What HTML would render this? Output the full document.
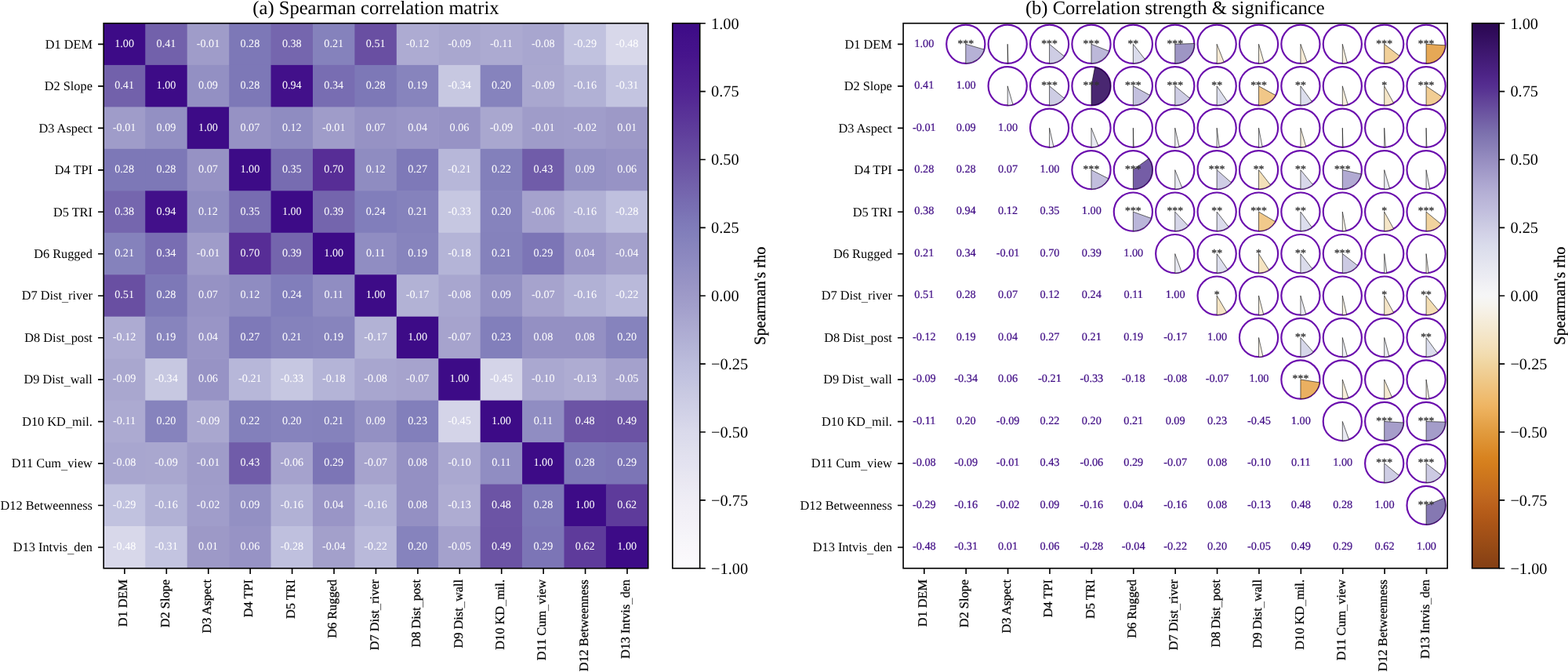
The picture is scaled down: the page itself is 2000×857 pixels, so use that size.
<!DOCTYPE html>
<html lang="en"><head><meta charset="utf-8"><title>Spearman correlation matrix</title>
<style>html,body{margin:0;padding:0;background:#fff}body{width:2000px;height:857px;overflow:hidden}svg{display:block}text{font-family:'Liberation Serif','Times New Roman',Times,serif;text-rendering:geometricPrecision}</style>
</head><body>
<svg width="2000" height="857" viewBox="0 0 2000 857">
<rect width="2000" height="857" fill="#fff"/>
<defs><linearGradient id="gP" x1="0" y1="1" x2="0" y2="0"><stop offset="0" stop-color="#fcfbfd"/><stop offset="0.0156" stop-color="#faf9fc"/><stop offset="0.0312" stop-color="#f9f7fb"/><stop offset="0.0469" stop-color="#f7f6fa"/><stop offset="0.0625" stop-color="#f5f4f9"/><stop offset="0.0781" stop-color="#f4f2f8"/><stop offset="0.0938" stop-color="#f2f0f7"/><stop offset="0.1094" stop-color="#f1eff6"/><stop offset="0.125" stop-color="#efedf5"/><stop offset="0.1406" stop-color="#ecebf4"/><stop offset="0.1562" stop-color="#eae8f2"/><stop offset="0.1719" stop-color="#e7e6f1"/><stop offset="0.1875" stop-color="#e4e3f0"/><stop offset="0.2031" stop-color="#e2e1ef"/><stop offset="0.2188" stop-color="#dfdfed"/><stop offset="0.2344" stop-color="#dcdcec"/><stop offset="0.25" stop-color="#dadaeb"/><stop offset="0.2656" stop-color="#d6d6e9"/><stop offset="0.2812" stop-color="#d2d2e7"/><stop offset="0.2969" stop-color="#cecfe5"/><stop offset="0.3125" stop-color="#cbcbe3"/><stop offset="0.3281" stop-color="#c7c8e1"/><stop offset="0.3438" stop-color="#c3c4e0"/><stop offset="0.3594" stop-color="#bfc0de"/><stop offset="0.375" stop-color="#bcbddc"/><stop offset="0.3906" stop-color="#b8b8d9"/><stop offset="0.4062" stop-color="#b4b4d7"/><stop offset="0.4219" stop-color="#b0afd4"/><stop offset="0.4375" stop-color="#adabd2"/><stop offset="0.4531" stop-color="#a9a7cf"/><stop offset="0.4688" stop-color="#a5a2cd"/><stop offset="0.4844" stop-color="#a19eca"/><stop offset="0.5" stop-color="#9e9ac8"/><stop offset="0.5156" stop-color="#9a96c6"/><stop offset="0.5312" stop-color="#9692c4"/><stop offset="0.5469" stop-color="#928fc3"/><stop offset="0.5625" stop-color="#8e8bc1"/><stop offset="0.5781" stop-color="#8b87bf"/><stop offset="0.5938" stop-color="#8784bd"/><stop offset="0.6094" stop-color="#8380bb"/><stop offset="0.625" stop-color="#807cba"/><stop offset="0.6406" stop-color="#7d77b7"/><stop offset="0.6562" stop-color="#7a71b4"/><stop offset="0.6719" stop-color="#776cb1"/><stop offset="0.6875" stop-color="#7566ae"/><stop offset="0.7031" stop-color="#7261ab"/><stop offset="0.7188" stop-color="#6f5ba8"/><stop offset="0.7344" stop-color="#6c55a5"/><stop offset="0.75" stop-color="#6950a3"/><stop offset="0.7656" stop-color="#664aa1"/><stop offset="0.7812" stop-color="#63459f"/><stop offset="0.7969" stop-color="#603f9c"/><stop offset="0.8125" stop-color="#5d3a9a"/><stop offset="0.8281" stop-color="#5a3498"/><stop offset="0.8438" stop-color="#572f96"/><stop offset="0.8594" stop-color="#542994"/><stop offset="0.875" stop-color="#512493"/><stop offset="0.8906" stop-color="#4f2091"/><stop offset="0.9062" stop-color="#4c1d8f"/><stop offset="0.9219" stop-color="#4a198e"/><stop offset="0.9375" stop-color="#47158c"/><stop offset="0.9531" stop-color="#44128b"/><stop offset="0.9688" stop-color="#421089"/><stop offset="0.9844" stop-color="#3f0d88"/><stop offset="1" stop-color="#3d0b87"/></linearGradient><linearGradient id="gO" x1="0" y1="1" x2="0" y2="0"><stop offset="0" stop-color="#833f14"/><stop offset="0.0156" stop-color="#8b4315"/><stop offset="0.0312" stop-color="#924815"/><stop offset="0.0469" stop-color="#9a4c16"/><stop offset="0.0625" stop-color="#a25017"/><stop offset="0.0781" stop-color="#a95417"/><stop offset="0.0938" stop-color="#b15918"/><stop offset="0.1094" stop-color="#b85e1a"/><stop offset="0.125" stop-color="#be651e"/><stop offset="0.1406" stop-color="#c46b1e"/><stop offset="0.1562" stop-color="#c9711d"/><stop offset="0.1719" stop-color="#ce771d"/><stop offset="0.1875" stop-color="#d47d1d"/><stop offset="0.2031" stop-color="#d88320"/><stop offset="0.2188" stop-color="#db8b2a"/><stop offset="0.2344" stop-color="#de9334"/><stop offset="0.25" stop-color="#e19b3e"/><stop offset="0.2656" stop-color="#e5a34a"/><stop offset="0.2812" stop-color="#eaac56"/><stop offset="0.2969" stop-color="#eeb462"/><stop offset="0.3125" stop-color="#efbb6e"/><stop offset="0.3281" stop-color="#efc17b"/><stop offset="0.3438" stop-color="#efc887"/><stop offset="0.3594" stop-color="#f0ce94"/><stop offset="0.375" stop-color="#f0d5a0"/><stop offset="0.3906" stop-color="#f2dbae"/><stop offset="0.4062" stop-color="#f3e0ba"/><stop offset="0.4219" stop-color="#f4e4c4"/><stop offset="0.4375" stop-color="#f4e8cf"/><stop offset="0.4531" stop-color="#f5ecd9"/><stop offset="0.4688" stop-color="#f6f0e4"/><stop offset="0.4844" stop-color="#f6f4ee"/><stop offset="0.5" stop-color="#f6f6f7"/><stop offset="0.5156" stop-color="#f2f2f5"/><stop offset="0.5312" stop-color="#ededf3"/><stop offset="0.5469" stop-color="#e8e9f1"/><stop offset="0.5625" stop-color="#e3e4ef"/><stop offset="0.5781" stop-color="#dee0ed"/><stop offset="0.5938" stop-color="#d9dbeb"/><stop offset="0.6094" stop-color="#d4d4e8"/><stop offset="0.625" stop-color="#cecde4"/><stop offset="0.6406" stop-color="#c7c6e0"/><stop offset="0.6562" stop-color="#c1bedd"/><stop offset="0.6719" stop-color="#bbb7d9"/><stop offset="0.6875" stop-color="#b5b0d5"/><stop offset="0.7031" stop-color="#aea8d1"/><stop offset="0.7188" stop-color="#a69fcb"/><stop offset="0.7344" stop-color="#9e96c6"/><stop offset="0.75" stop-color="#968dc0"/><stop offset="0.7656" stop-color="#8d84ba"/><stop offset="0.7812" stop-color="#857bb4"/><stop offset="0.7969" stop-color="#7d72ae"/><stop offset="0.8125" stop-color="#7666a9"/><stop offset="0.8281" stop-color="#6f5aa3"/><stop offset="0.8438" stop-color="#684e9e"/><stop offset="0.8594" stop-color="#614298"/><stop offset="0.875" stop-color="#593593"/><stop offset="0.8906" stop-color="#532b8e"/><stop offset="0.9062" stop-color="#4d2486"/><stop offset="0.9219" stop-color="#471f7d"/><stop offset="0.9375" stop-color="#411a74"/><stop offset="0.9531" stop-color="#3b156b"/><stop offset="0.9688" stop-color="#351062"/><stop offset="0.9844" stop-color="#2f0b59"/><stop offset="1" stop-color="#2b0852"/></linearGradient></defs>
<g>
<rect x="132.2" y="29.7" width="54.02" height="54.07" fill="#3d0b87"/>
<rect x="185.27" y="29.7" width="54.02" height="54.07" fill="#7261ab"/>
<rect x="238.7" y="29.7" width="54.02" height="54.07" fill="#9f9cc9"/>
<rect x="292.12" y="29.7" width="54.02" height="54.07" fill="#7d78b7"/>
<rect x="345.54" y="29.7" width="54.02" height="54.07" fill="#7566ae"/>
<rect x="398.97" y="29.7" width="54.02" height="54.07" fill="#8582bc"/>
<rect x="452.39" y="29.7" width="54.02" height="54.07" fill="#694fa2"/>
<rect x="505.81" y="29.7" width="54.02" height="54.07" fill="#adabd2"/>
<rect x="559.23" y="29.7" width="54.02" height="54.07" fill="#a9a7cf"/>
<rect x="612.66" y="29.7" width="54.02" height="54.07" fill="#acaad1"/>
<rect x="666.08" y="29.7" width="54.02" height="54.07" fill="#a8a6cf"/>
<rect x="719.5" y="29.7" width="54.02" height="54.07" fill="#c1c2df"/>
<rect x="772.93" y="29.7" width="54.02" height="54.07" fill="#d8d8ea"/>
<rect x="132.2" y="82.92" width="54.02" height="54.07" fill="#7261ab"/>
<rect x="185.27" y="82.92" width="54.02" height="54.07" fill="#3d0b87"/>
<rect x="238.7" y="82.92" width="54.02" height="54.07" fill="#9390c3"/>
<rect x="292.12" y="82.92" width="54.02" height="54.07" fill="#7d78b7"/>
<rect x="345.54" y="82.92" width="54.02" height="54.07" fill="#42108a"/>
<rect x="398.97" y="82.92" width="54.02" height="54.07" fill="#786db2"/>
<rect x="452.39" y="82.92" width="54.02" height="54.07" fill="#7d78b7"/>
<rect x="505.81" y="82.92" width="54.02" height="54.07" fill="#8784bd"/>
<rect x="559.23" y="82.92" width="54.02" height="54.07" fill="#c7c8e1"/>
<rect x="612.66" y="82.92" width="54.02" height="54.07" fill="#8683bd"/>
<rect x="666.08" y="82.92" width="54.02" height="54.07" fill="#a9a7cf"/>
<rect x="719.5" y="82.92" width="54.02" height="54.07" fill="#b1b1d5"/>
<rect x="772.93" y="82.92" width="54.02" height="54.07" fill="#c3c4e0"/>
<rect x="132.2" y="136.38" width="54.02" height="54.07" fill="#9f9cc9"/>
<rect x="185.27" y="136.38" width="54.02" height="54.07" fill="#9390c3"/>
<rect x="238.7" y="136.38" width="54.02" height="54.07" fill="#3d0b87"/>
<rect x="292.12" y="136.38" width="54.02" height="54.07" fill="#9692c4"/>
<rect x="345.54" y="136.38" width="54.02" height="54.07" fill="#8f8cc1"/>
<rect x="398.97" y="136.38" width="54.02" height="54.07" fill="#9f9cc9"/>
<rect x="452.39" y="136.38" width="54.02" height="54.07" fill="#9692c4"/>
<rect x="505.81" y="136.38" width="54.02" height="54.07" fill="#9995c6"/>
<rect x="559.23" y="136.38" width="54.02" height="54.07" fill="#9793c5"/>
<rect x="612.66" y="136.38" width="54.02" height="54.07" fill="#a9a7cf"/>
<rect x="666.08" y="136.38" width="54.02" height="54.07" fill="#9f9cc9"/>
<rect x="719.5" y="136.38" width="54.02" height="54.07" fill="#a09dca"/>
<rect x="772.93" y="136.38" width="54.02" height="54.07" fill="#9d99c7"/>
<rect x="132.2" y="189.85" width="54.02" height="54.07" fill="#7d78b7"/>
<rect x="185.27" y="189.85" width="54.02" height="54.07" fill="#7d78b7"/>
<rect x="238.7" y="189.85" width="54.02" height="54.07" fill="#9692c4"/>
<rect x="292.12" y="189.85" width="54.02" height="54.07" fill="#3d0b87"/>
<rect x="345.54" y="189.85" width="54.02" height="54.07" fill="#776cb1"/>
<rect x="398.97" y="189.85" width="54.02" height="54.07" fill="#572d96"/>
<rect x="452.39" y="189.85" width="54.02" height="54.07" fill="#8f8cc1"/>
<rect x="505.81" y="189.85" width="54.02" height="54.07" fill="#7e79b8"/>
<rect x="559.23" y="189.85" width="54.02" height="54.07" fill="#b7b7d9"/>
<rect x="612.66" y="189.85" width="54.02" height="54.07" fill="#8380bb"/>
<rect x="666.08" y="189.85" width="54.02" height="54.07" fill="#705ca9"/>
<rect x="719.5" y="189.85" width="54.02" height="54.07" fill="#9390c3"/>
<rect x="772.93" y="189.85" width="54.02" height="54.07" fill="#9793c5"/>
<rect x="132.2" y="243.31" width="54.02" height="54.07" fill="#7566ae"/>
<rect x="185.27" y="243.31" width="54.02" height="54.07" fill="#42108a"/>
<rect x="238.7" y="243.31" width="54.02" height="54.07" fill="#8f8cc1"/>
<rect x="292.12" y="243.31" width="54.02" height="54.07" fill="#776cb1"/>
<rect x="345.54" y="243.31" width="54.02" height="54.07" fill="#3d0b87"/>
<rect x="398.97" y="243.31" width="54.02" height="54.07" fill="#7465ad"/>
<rect x="452.39" y="243.31" width="54.02" height="54.07" fill="#817ebb"/>
<rect x="505.81" y="243.31" width="54.02" height="54.07" fill="#8582bc"/>
<rect x="559.23" y="243.31" width="54.02" height="54.07" fill="#c6c7e1"/>
<rect x="612.66" y="243.31" width="54.02" height="54.07" fill="#8683bd"/>
<rect x="666.08" y="243.31" width="54.02" height="54.07" fill="#a5a2cd"/>
<rect x="719.5" y="243.31" width="54.02" height="54.07" fill="#b1b1d5"/>
<rect x="772.93" y="243.31" width="54.02" height="54.07" fill="#bfc0de"/>
<rect x="132.2" y="296.78" width="54.02" height="54.07" fill="#8582bc"/>
<rect x="185.27" y="296.78" width="54.02" height="54.07" fill="#786db2"/>
<rect x="238.7" y="296.78" width="54.02" height="54.07" fill="#9f9cc9"/>
<rect x="292.12" y="296.78" width="54.02" height="54.07" fill="#572d96"/>
<rect x="345.54" y="296.78" width="54.02" height="54.07" fill="#7465ad"/>
<rect x="398.97" y="296.78" width="54.02" height="54.07" fill="#3d0b87"/>
<rect x="452.39" y="296.78" width="54.02" height="54.07" fill="#908dc2"/>
<rect x="505.81" y="296.78" width="54.02" height="54.07" fill="#8784bd"/>
<rect x="559.23" y="296.78" width="54.02" height="54.07" fill="#b4b4d7"/>
<rect x="612.66" y="296.78" width="54.02" height="54.07" fill="#8582bc"/>
<rect x="666.08" y="296.78" width="54.02" height="54.07" fill="#7c75b6"/>
<rect x="719.5" y="296.78" width="54.02" height="54.07" fill="#9995c6"/>
<rect x="772.93" y="296.78" width="54.02" height="54.07" fill="#a3a0cb"/>
<rect x="132.2" y="350.24" width="54.02" height="54.07" fill="#694fa2"/>
<rect x="185.27" y="350.24" width="54.02" height="54.07" fill="#7d78b7"/>
<rect x="238.7" y="350.24" width="54.02" height="54.07" fill="#9692c4"/>
<rect x="292.12" y="350.24" width="54.02" height="54.07" fill="#8f8cc1"/>
<rect x="345.54" y="350.24" width="54.02" height="54.07" fill="#817ebb"/>
<rect x="398.97" y="350.24" width="54.02" height="54.07" fill="#908dc2"/>
<rect x="452.39" y="350.24" width="54.02" height="54.07" fill="#3d0b87"/>
<rect x="505.81" y="350.24" width="54.02" height="54.07" fill="#b2b2d5"/>
<rect x="559.23" y="350.24" width="54.02" height="54.07" fill="#a8a6cf"/>
<rect x="612.66" y="350.24" width="54.02" height="54.07" fill="#9390c3"/>
<rect x="666.08" y="350.24" width="54.02" height="54.07" fill="#a6a3cd"/>
<rect x="719.5" y="350.24" width="54.02" height="54.07" fill="#b1b1d5"/>
<rect x="772.93" y="350.24" width="54.02" height="54.07" fill="#b9b9da"/>
<rect x="132.2" y="403.71" width="54.02" height="54.07" fill="#adabd2"/>
<rect x="185.27" y="403.71" width="54.02" height="54.07" fill="#8784bd"/>
<rect x="238.7" y="403.71" width="54.02" height="54.07" fill="#9995c6"/>
<rect x="292.12" y="403.71" width="54.02" height="54.07" fill="#7e79b8"/>
<rect x="345.54" y="403.71" width="54.02" height="54.07" fill="#8582bc"/>
<rect x="398.97" y="403.71" width="54.02" height="54.07" fill="#8784bd"/>
<rect x="452.39" y="403.71" width="54.02" height="54.07" fill="#b2b2d5"/>
<rect x="505.81" y="403.71" width="54.02" height="54.07" fill="#3d0b87"/>
<rect x="559.23" y="403.71" width="54.02" height="54.07" fill="#a6a3cd"/>
<rect x="612.66" y="403.71" width="54.02" height="54.07" fill="#827fbb"/>
<rect x="666.08" y="403.71" width="54.02" height="54.07" fill="#9490c3"/>
<rect x="719.5" y="403.71" width="54.02" height="54.07" fill="#9490c3"/>
<rect x="772.93" y="403.71" width="54.02" height="54.07" fill="#8683bd"/>
<rect x="132.2" y="457.17" width="54.02" height="54.07" fill="#a9a7cf"/>
<rect x="185.27" y="457.17" width="54.02" height="54.07" fill="#c7c8e1"/>
<rect x="238.7" y="457.17" width="54.02" height="54.07" fill="#9793c5"/>
<rect x="292.12" y="457.17" width="54.02" height="54.07" fill="#b7b7d9"/>
<rect x="345.54" y="457.17" width="54.02" height="54.07" fill="#c6c7e1"/>
<rect x="398.97" y="457.17" width="54.02" height="54.07" fill="#b4b4d7"/>
<rect x="452.39" y="457.17" width="54.02" height="54.07" fill="#a8a6cf"/>
<rect x="505.81" y="457.17" width="54.02" height="54.07" fill="#a6a3cd"/>
<rect x="559.23" y="457.17" width="54.02" height="54.07" fill="#3d0b87"/>
<rect x="612.66" y="457.17" width="54.02" height="54.07" fill="#d4d4e8"/>
<rect x="666.08" y="457.17" width="54.02" height="54.07" fill="#aaa8d0"/>
<rect x="719.5" y="457.17" width="54.02" height="54.07" fill="#aeacd2"/>
<rect x="772.93" y="457.17" width="54.02" height="54.07" fill="#a4a1cc"/>
<rect x="132.2" y="510.64" width="54.02" height="54.07" fill="#acaad1"/>
<rect x="185.27" y="510.64" width="54.02" height="54.07" fill="#8683bd"/>
<rect x="238.7" y="510.64" width="54.02" height="54.07" fill="#a9a7cf"/>
<rect x="292.12" y="510.64" width="54.02" height="54.07" fill="#8380bb"/>
<rect x="345.54" y="510.64" width="54.02" height="54.07" fill="#8683bd"/>
<rect x="398.97" y="510.64" width="54.02" height="54.07" fill="#8582bc"/>
<rect x="452.39" y="510.64" width="54.02" height="54.07" fill="#9390c3"/>
<rect x="505.81" y="510.64" width="54.02" height="54.07" fill="#827fbb"/>
<rect x="559.23" y="510.64" width="54.02" height="54.07" fill="#d4d4e8"/>
<rect x="612.66" y="510.64" width="54.02" height="54.07" fill="#3d0b87"/>
<rect x="666.08" y="510.64" width="54.02" height="54.07" fill="#908dc2"/>
<rect x="719.5" y="510.64" width="54.02" height="54.07" fill="#6c54a5"/>
<rect x="772.93" y="510.64" width="54.02" height="54.07" fill="#6b53a4"/>
<rect x="132.2" y="564.1" width="54.02" height="54.07" fill="#a8a6cf"/>
<rect x="185.27" y="564.1" width="54.02" height="54.07" fill="#a9a7cf"/>
<rect x="238.7" y="564.1" width="54.02" height="54.07" fill="#9f9cc9"/>
<rect x="292.12" y="564.1" width="54.02" height="54.07" fill="#705ca9"/>
<rect x="345.54" y="564.1" width="54.02" height="54.07" fill="#a5a2cd"/>
<rect x="398.97" y="564.1" width="54.02" height="54.07" fill="#7c75b6"/>
<rect x="452.39" y="564.1" width="54.02" height="54.07" fill="#a6a3cd"/>
<rect x="505.81" y="564.1" width="54.02" height="54.07" fill="#9490c3"/>
<rect x="559.23" y="564.1" width="54.02" height="54.07" fill="#aaa8d0"/>
<rect x="612.66" y="564.1" width="54.02" height="54.07" fill="#908dc2"/>
<rect x="666.08" y="564.1" width="54.02" height="54.07" fill="#3d0b87"/>
<rect x="719.5" y="564.1" width="54.02" height="54.07" fill="#7d78b7"/>
<rect x="772.93" y="564.1" width="54.02" height="54.07" fill="#7c75b6"/>
<rect x="132.2" y="617.57" width="54.02" height="54.07" fill="#c1c2df"/>
<rect x="185.27" y="617.57" width="54.02" height="54.07" fill="#b1b1d5"/>
<rect x="238.7" y="617.57" width="54.02" height="54.07" fill="#a09dca"/>
<rect x="292.12" y="617.57" width="54.02" height="54.07" fill="#9390c3"/>
<rect x="345.54" y="617.57" width="54.02" height="54.07" fill="#b1b1d5"/>
<rect x="398.97" y="617.57" width="54.02" height="54.07" fill="#9995c6"/>
<rect x="452.39" y="617.57" width="54.02" height="54.07" fill="#b1b1d5"/>
<rect x="505.81" y="617.57" width="54.02" height="54.07" fill="#9490c3"/>
<rect x="559.23" y="617.57" width="54.02" height="54.07" fill="#aeacd2"/>
<rect x="612.66" y="617.57" width="54.02" height="54.07" fill="#6c54a5"/>
<rect x="666.08" y="617.57" width="54.02" height="54.07" fill="#7d78b7"/>
<rect x="719.5" y="617.57" width="54.02" height="54.07" fill="#3d0b87"/>
<rect x="772.93" y="617.57" width="54.02" height="54.07" fill="#5e3b9b"/>
<rect x="132.2" y="671.03" width="54.02" height="54.07" fill="#d8d8ea"/>
<rect x="185.27" y="671.03" width="54.02" height="54.07" fill="#c3c4e0"/>
<rect x="238.7" y="671.03" width="54.02" height="54.07" fill="#9d99c7"/>
<rect x="292.12" y="671.03" width="54.02" height="54.07" fill="#9793c5"/>
<rect x="345.54" y="671.03" width="54.02" height="54.07" fill="#bfc0de"/>
<rect x="398.97" y="671.03" width="54.02" height="54.07" fill="#a3a0cb"/>
<rect x="452.39" y="671.03" width="54.02" height="54.07" fill="#b9b9da"/>
<rect x="505.81" y="671.03" width="54.02" height="54.07" fill="#8683bd"/>
<rect x="559.23" y="671.03" width="54.02" height="54.07" fill="#a4a1cc"/>
<rect x="612.66" y="671.03" width="54.02" height="54.07" fill="#6b53a4"/>
<rect x="666.08" y="671.03" width="54.02" height="54.07" fill="#7c75b6"/>
<rect x="719.5" y="671.03" width="54.02" height="54.07" fill="#5e3b9b"/>
<rect x="772.93" y="671.03" width="54.02" height="54.07" fill="#3d0b87"/>
</g>
<g font-size="14.2" fill="#fff" text-anchor="middle">
<text x="158.61" y="59.68">1.00</text>
<text x="212.03" y="59.68">0.41</text>
<text x="265.46" y="59.68">-0.01</text>
<text x="318.88" y="59.68">0.28</text>
<text x="372.3" y="59.68">0.38</text>
<text x="425.73" y="59.68">0.21</text>
<text x="479.15" y="59.68">0.51</text>
<text x="532.57" y="59.68">-0.12</text>
<text x="586" y="59.68">-0.09</text>
<text x="639.42" y="59.68">-0.11</text>
<text x="692.84" y="59.68">-0.08</text>
<text x="746.27" y="59.68">-0.29</text>
<text x="799.69" y="59.68">-0.48</text>
<text x="158.61" y="113.15">0.41</text>
<text x="212.03" y="113.15">1.00</text>
<text x="265.46" y="113.15">0.09</text>
<text x="318.88" y="113.15">0.28</text>
<text x="372.3" y="113.15">0.94</text>
<text x="425.73" y="113.15">0.34</text>
<text x="479.15" y="113.15">0.28</text>
<text x="532.57" y="113.15">0.19</text>
<text x="586" y="113.15">-0.34</text>
<text x="639.42" y="113.15">0.20</text>
<text x="692.84" y="113.15">-0.09</text>
<text x="746.27" y="113.15">-0.16</text>
<text x="799.69" y="113.15">-0.31</text>
<text x="158.61" y="166.61">-0.01</text>
<text x="212.03" y="166.61">0.09</text>
<text x="265.46" y="166.61">1.00</text>
<text x="318.88" y="166.61">0.07</text>
<text x="372.3" y="166.61">0.12</text>
<text x="425.73" y="166.61">-0.01</text>
<text x="479.15" y="166.61">0.07</text>
<text x="532.57" y="166.61">0.04</text>
<text x="586" y="166.61">0.06</text>
<text x="639.42" y="166.61">-0.09</text>
<text x="692.84" y="166.61">-0.01</text>
<text x="746.27" y="166.61">-0.02</text>
<text x="799.69" y="166.61">0.01</text>
<text x="158.61" y="220.08">0.28</text>
<text x="212.03" y="220.08">0.28</text>
<text x="265.46" y="220.08">0.07</text>
<text x="318.88" y="220.08">1.00</text>
<text x="372.3" y="220.08">0.35</text>
<text x="425.73" y="220.08">0.70</text>
<text x="479.15" y="220.08">0.12</text>
<text x="532.57" y="220.08">0.27</text>
<text x="586" y="220.08">-0.21</text>
<text x="639.42" y="220.08">0.22</text>
<text x="692.84" y="220.08">0.43</text>
<text x="746.27" y="220.08">0.09</text>
<text x="799.69" y="220.08">0.06</text>
<text x="158.61" y="273.54">0.38</text>
<text x="212.03" y="273.54">0.94</text>
<text x="265.46" y="273.54">0.12</text>
<text x="318.88" y="273.54">0.35</text>
<text x="372.3" y="273.54">1.00</text>
<text x="425.73" y="273.54">0.39</text>
<text x="479.15" y="273.54">0.24</text>
<text x="532.57" y="273.54">0.21</text>
<text x="586" y="273.54">-0.33</text>
<text x="639.42" y="273.54">0.20</text>
<text x="692.84" y="273.54">-0.06</text>
<text x="746.27" y="273.54">-0.16</text>
<text x="799.69" y="273.54">-0.28</text>
<text x="158.61" y="327.01">0.21</text>
<text x="212.03" y="327.01">0.34</text>
<text x="265.46" y="327.01">-0.01</text>
<text x="318.88" y="327.01">0.70</text>
<text x="372.3" y="327.01">0.39</text>
<text x="425.73" y="327.01">1.00</text>
<text x="479.15" y="327.01">0.11</text>
<text x="532.57" y="327.01">0.19</text>
<text x="586" y="327.01">-0.18</text>
<text x="639.42" y="327.01">0.21</text>
<text x="692.84" y="327.01">0.29</text>
<text x="746.27" y="327.01">0.04</text>
<text x="799.69" y="327.01">-0.04</text>
<text x="158.61" y="380.47">0.51</text>
<text x="212.03" y="380.47">0.28</text>
<text x="265.46" y="380.47">0.07</text>
<text x="318.88" y="380.47">0.12</text>
<text x="372.3" y="380.47">0.24</text>
<text x="425.73" y="380.47">0.11</text>
<text x="479.15" y="380.47">1.00</text>
<text x="532.57" y="380.47">-0.17</text>
<text x="586" y="380.47">-0.08</text>
<text x="639.42" y="380.47">0.09</text>
<text x="692.84" y="380.47">-0.07</text>
<text x="746.27" y="380.47">-0.16</text>
<text x="799.69" y="380.47">-0.22</text>
<text x="158.61" y="433.94">-0.12</text>
<text x="212.03" y="433.94">0.19</text>
<text x="265.46" y="433.94">0.04</text>
<text x="318.88" y="433.94">0.27</text>
<text x="372.3" y="433.94">0.21</text>
<text x="425.73" y="433.94">0.19</text>
<text x="479.15" y="433.94">-0.17</text>
<text x="532.57" y="433.94">1.00</text>
<text x="586" y="433.94">-0.07</text>
<text x="639.42" y="433.94">0.23</text>
<text x="692.84" y="433.94">0.08</text>
<text x="746.27" y="433.94">0.08</text>
<text x="799.69" y="433.94">0.20</text>
<text x="158.61" y="487.41">-0.09</text>
<text x="212.03" y="487.41">-0.34</text>
<text x="265.46" y="487.41">0.06</text>
<text x="318.88" y="487.41">-0.21</text>
<text x="372.3" y="487.41">-0.33</text>
<text x="425.73" y="487.41">-0.18</text>
<text x="479.15" y="487.41">-0.08</text>
<text x="532.57" y="487.41">-0.07</text>
<text x="586" y="487.41">1.00</text>
<text x="639.42" y="487.41">-0.45</text>
<text x="692.84" y="487.41">-0.10</text>
<text x="746.27" y="487.41">-0.13</text>
<text x="799.69" y="487.41">-0.05</text>
<text x="158.61" y="540.87">-0.11</text>
<text x="212.03" y="540.87">0.20</text>
<text x="265.46" y="540.87">-0.09</text>
<text x="318.88" y="540.87">0.22</text>
<text x="372.3" y="540.87">0.20</text>
<text x="425.73" y="540.87">0.21</text>
<text x="479.15" y="540.87">0.09</text>
<text x="532.57" y="540.87">0.23</text>
<text x="586" y="540.87">-0.45</text>
<text x="639.42" y="540.87">1.00</text>
<text x="692.84" y="540.87">0.11</text>
<text x="746.27" y="540.87">0.48</text>
<text x="799.69" y="540.87">0.49</text>
<text x="158.61" y="594.34">-0.08</text>
<text x="212.03" y="594.34">-0.09</text>
<text x="265.46" y="594.34">-0.01</text>
<text x="318.88" y="594.34">0.43</text>
<text x="372.3" y="594.34">-0.06</text>
<text x="425.73" y="594.34">0.29</text>
<text x="479.15" y="594.34">-0.07</text>
<text x="532.57" y="594.34">0.08</text>
<text x="586" y="594.34">-0.10</text>
<text x="639.42" y="594.34">0.11</text>
<text x="692.84" y="594.34">1.00</text>
<text x="746.27" y="594.34">0.28</text>
<text x="799.69" y="594.34">0.29</text>
<text x="158.61" y="647.8">-0.29</text>
<text x="212.03" y="647.8">-0.16</text>
<text x="265.46" y="647.8">-0.02</text>
<text x="318.88" y="647.8">0.09</text>
<text x="372.3" y="647.8">-0.16</text>
<text x="425.73" y="647.8">0.04</text>
<text x="479.15" y="647.8">-0.16</text>
<text x="532.57" y="647.8">0.08</text>
<text x="586" y="647.8">-0.13</text>
<text x="639.42" y="647.8">0.48</text>
<text x="692.84" y="647.8">0.28</text>
<text x="746.27" y="647.8">1.00</text>
<text x="799.69" y="647.8">0.62</text>
<text x="158.61" y="701.27">-0.48</text>
<text x="212.03" y="701.27">-0.31</text>
<text x="265.46" y="701.27">0.01</text>
<text x="318.88" y="701.27">0.06</text>
<text x="372.3" y="701.27">-0.28</text>
<text x="425.73" y="701.27">-0.04</text>
<text x="479.15" y="701.27">-0.22</text>
<text x="532.57" y="701.27">0.20</text>
<text x="586" y="701.27">-0.05</text>
<text x="639.42" y="701.27">0.49</text>
<text x="692.84" y="701.27">0.29</text>
<text x="746.27" y="701.27">0.62</text>
<text x="799.69" y="701.27">1.00</text>
</g>
<rect x="132.2" y="29.7" width="694.5" height="695.05" fill="none" stroke="#000" stroke-width="1.63"/>
<text x="479.45" y="17.85" font-size="24.56" text-anchor="middle" fill="#000">(a) Spearman correlation matrix</text>
<path d="M158.91 724.75v7.14M132.2 56.43h-7.14M212.33 724.75v7.14M132.2 109.9h-7.14M265.76 724.75v7.14M132.2 163.36h-7.14M319.18 724.75v7.14M132.2 216.83h-7.14M372.6 724.75v7.14M132.2 270.29h-7.14M426.03 724.75v7.14M132.2 323.76h-7.14M479.45 724.75v7.14M132.2 377.22h-7.14M532.87 724.75v7.14M132.2 430.69h-7.14M586.3 724.75v7.14M132.2 484.16h-7.14M639.72 724.75v7.14M132.2 537.62h-7.14M693.14 724.75v7.14M132.2 591.09h-7.14M746.57 724.75v7.14M132.2 644.55h-7.14M799.99 724.75v7.14M132.2 698.02h-7.14" stroke="#000" stroke-width="1.63" fill="none"/>
<g font-size="16.32" fill="#000">
<text x="117.92" y="61.7" text-anchor="end">D1 DEM</text>
<text x="117.92" y="115.17" text-anchor="end">D2 Slope</text>
<text x="117.92" y="168.63" text-anchor="end">D3 Aspect</text>
<text x="117.92" y="222.1" text-anchor="end">D4 TPI</text>
<text x="117.92" y="275.56" text-anchor="end">D5 TRI</text>
<text x="117.92" y="329.03" text-anchor="end">D6 Rugged</text>
<text x="117.92" y="382.49" text-anchor="end">D7 Dist<tspan dy="1.4" fill="#3a3a3a" stroke="none">_</tspan><tspan dy="-1.4">river</tspan></text>
<text x="117.92" y="435.96" text-anchor="end">D8 Dist<tspan dy="1.4" fill="#3a3a3a" stroke="none">_</tspan><tspan dy="-1.4">post</tspan></text>
<text x="117.92" y="489.42" text-anchor="end">D9 Dist<tspan dy="1.4" fill="#3a3a3a" stroke="none">_</tspan><tspan dy="-1.4">wall</tspan></text>
<text x="117.92" y="542.89" text-anchor="end">D10 KD<tspan dy="1.4" fill="#3a3a3a" stroke="none">_</tspan><tspan dy="-1.4">mil.</tspan></text>
<text x="117.92" y="596.35" text-anchor="end">D11 Cum<tspan dy="1.4" fill="#3a3a3a" stroke="none">_</tspan><tspan dy="-1.4">view</tspan></text>
<text x="117.92" y="649.82" text-anchor="end">D12 Betweenness</text>
<text x="117.92" y="703.28" text-anchor="end">D13 Intvis<tspan dy="1.4" fill="#3a3a3a" stroke="none">_</tspan><tspan dy="-1.4">den</tspan></text>
<text transform="translate(162.21 739.03) rotate(-90)" text-anchor="end" stroke="#000" stroke-width="0.25">D1 DEM</text>
<text transform="translate(215.64 739.03) rotate(-90)" text-anchor="end" stroke="#000" stroke-width="0.25">D2 Slope</text>
<text transform="translate(269.06 739.03) rotate(-90)" text-anchor="end" stroke="#000" stroke-width="0.25">D3 Aspect</text>
<text transform="translate(322.48 739.03) rotate(-90)" text-anchor="end" stroke="#000" stroke-width="0.25">D4 TPI</text>
<text transform="translate(375.91 739.03) rotate(-90)" text-anchor="end" stroke="#000" stroke-width="0.25">D5 TRI</text>
<text transform="translate(429.33 739.03) rotate(-90)" text-anchor="end" stroke="#000" stroke-width="0.25">D6 Rugged</text>
<text transform="translate(482.75 739.03) rotate(-90)" text-anchor="end" stroke="#000" stroke-width="0.25">D7 Dist<tspan dy="1.4" fill="#3a3a3a" stroke="none">_</tspan><tspan dy="-1.4">river</tspan></text>
<text transform="translate(536.18 739.03) rotate(-90)" text-anchor="end" stroke="#000" stroke-width="0.25">D8 Dist<tspan dy="1.4" fill="#3a3a3a" stroke="none">_</tspan><tspan dy="-1.4">post</tspan></text>
<text transform="translate(589.6 739.03) rotate(-90)" text-anchor="end" stroke="#000" stroke-width="0.25">D9 Dist<tspan dy="1.4" fill="#3a3a3a" stroke="none">_</tspan><tspan dy="-1.4">wall</tspan></text>
<text transform="translate(643.02 739.03) rotate(-90)" text-anchor="end" stroke="#000" stroke-width="0.25">D10 KD<tspan dy="1.4" fill="#3a3a3a" stroke="none">_</tspan><tspan dy="-1.4">mil.</tspan></text>
<text transform="translate(696.44 739.03) rotate(-90)" text-anchor="end" stroke="#000" stroke-width="0.25">D11 Cum<tspan dy="1.4" fill="#3a3a3a" stroke="none">_</tspan><tspan dy="-1.4">view</tspan></text>
<text transform="translate(749.87 739.03) rotate(-90)" text-anchor="end" stroke="#000" stroke-width="0.25">D12 Betweenness</text>
<text transform="translate(803.29 739.03) rotate(-90)" text-anchor="end" stroke="#000" stroke-width="0.25">D13 Intvis<tspan dy="1.4" fill="#3a3a3a" stroke="none">_</tspan><tspan dy="-1.4">den</tspan></text>
</g>
<rect x="857.8" y="29.7" width="34.9" height="695.05" fill="url(#gP)" stroke="#000" stroke-width="1.63"/>
<g font-size="20.4" fill="#000">
<text x="906.98" y="36.53">1.00</text>
<text x="906.98" y="123.42">0.75</text>
<text x="906.98" y="210.3">0.50</text>
<text x="906.98" y="297.18">0.25</text>
<text x="906.98" y="384.06">0.00</text>
<text x="906.98" y="470.94">−0.25</text>
<text x="906.98" y="557.82">−0.50</text>
<text x="906.98" y="644.7">−0.75</text>
<text x="906.98" y="731.58">−1.00</text>
<text transform="translate(976.4 377.23) rotate(-90)" text-anchor="middle" stroke="#000" stroke-width="0.25">Spearman's rho</text>
</g>
<path d="M892.7 29.7h7.14M892.7 116.58h7.14M892.7 203.46h7.14M892.7 290.34h7.14M892.7 377.22h7.14M892.7 464.11h7.14M892.7 550.99h7.14M892.7 637.87h7.14M892.7 724.75h7.14" stroke="#000" stroke-width="1.63" fill="none"/>
<g font-size="14.3" fill="#3e0a84" stroke="#3e0a84" stroke-width="0.2" text-anchor="middle">
<text x="1178.8" y="59.63">1.00</text>
<text x="1178.8" y="113.1">0.41</text>
<text x="1232.19" y="113.1">1.00</text>
<text x="1178.8" y="166.56">-0.01</text>
<text x="1232.19" y="166.56">0.09</text>
<text x="1285.58" y="166.56">1.00</text>
<text x="1178.8" y="220.03">0.28</text>
<text x="1232.19" y="220.03">0.28</text>
<text x="1285.58" y="220.03">0.07</text>
<text x="1338.97" y="220.03">1.00</text>
<text x="1178.8" y="273.49">0.38</text>
<text x="1232.19" y="273.49">0.94</text>
<text x="1285.58" y="273.49">0.12</text>
<text x="1338.97" y="273.49">0.35</text>
<text x="1392.37" y="273.49">1.00</text>
<text x="1178.8" y="326.96">0.21</text>
<text x="1232.19" y="326.96">0.34</text>
<text x="1285.58" y="326.96">-0.01</text>
<text x="1338.97" y="326.96">0.70</text>
<text x="1392.37" y="326.96">0.39</text>
<text x="1445.76" y="326.96">1.00</text>
<text x="1178.8" y="380.42">0.51</text>
<text x="1232.19" y="380.42">0.28</text>
<text x="1285.58" y="380.42">0.07</text>
<text x="1338.97" y="380.42">0.12</text>
<text x="1392.37" y="380.42">0.24</text>
<text x="1445.76" y="380.42">0.11</text>
<text x="1499.15" y="380.42">1.00</text>
<text x="1178.8" y="433.89">-0.12</text>
<text x="1232.19" y="433.89">0.19</text>
<text x="1285.58" y="433.89">0.04</text>
<text x="1338.97" y="433.89">0.27</text>
<text x="1392.37" y="433.89">0.21</text>
<text x="1445.76" y="433.89">0.19</text>
<text x="1499.15" y="433.89">-0.17</text>
<text x="1552.54" y="433.89">1.00</text>
<text x="1178.8" y="487.36">-0.09</text>
<text x="1232.19" y="487.36">-0.34</text>
<text x="1285.58" y="487.36">0.06</text>
<text x="1338.97" y="487.36">-0.21</text>
<text x="1392.37" y="487.36">-0.33</text>
<text x="1445.76" y="487.36">-0.18</text>
<text x="1499.15" y="487.36">-0.08</text>
<text x="1552.54" y="487.36">-0.07</text>
<text x="1605.93" y="487.36">1.00</text>
<text x="1178.8" y="540.82">-0.11</text>
<text x="1232.19" y="540.82">0.20</text>
<text x="1285.58" y="540.82">-0.09</text>
<text x="1338.97" y="540.82">0.22</text>
<text x="1392.37" y="540.82">0.20</text>
<text x="1445.76" y="540.82">0.21</text>
<text x="1499.15" y="540.82">0.09</text>
<text x="1552.54" y="540.82">0.23</text>
<text x="1605.93" y="540.82">-0.45</text>
<text x="1659.33" y="540.82">1.00</text>
<text x="1178.8" y="594.29">-0.08</text>
<text x="1232.19" y="594.29">-0.09</text>
<text x="1285.58" y="594.29">-0.01</text>
<text x="1338.97" y="594.29">0.43</text>
<text x="1392.37" y="594.29">-0.06</text>
<text x="1445.76" y="594.29">0.29</text>
<text x="1499.15" y="594.29">-0.07</text>
<text x="1552.54" y="594.29">0.08</text>
<text x="1605.93" y="594.29">-0.10</text>
<text x="1659.33" y="594.29">0.11</text>
<text x="1712.72" y="594.29">1.00</text>
<text x="1178.8" y="647.75">-0.29</text>
<text x="1232.19" y="647.75">-0.16</text>
<text x="1285.58" y="647.75">-0.02</text>
<text x="1338.97" y="647.75">0.09</text>
<text x="1392.37" y="647.75">-0.16</text>
<text x="1445.76" y="647.75">0.04</text>
<text x="1499.15" y="647.75">-0.16</text>
<text x="1552.54" y="647.75">0.08</text>
<text x="1605.93" y="647.75">-0.13</text>
<text x="1659.33" y="647.75">0.48</text>
<text x="1712.72" y="647.75">0.28</text>
<text x="1766.11" y="647.75">1.00</text>
<text x="1178.8" y="701.22">-0.48</text>
<text x="1232.19" y="701.22">-0.31</text>
<text x="1285.58" y="701.22">0.01</text>
<text x="1338.97" y="701.22">0.06</text>
<text x="1392.37" y="701.22">-0.28</text>
<text x="1445.76" y="701.22">-0.04</text>
<text x="1499.15" y="701.22">-0.22</text>
<text x="1552.54" y="701.22">0.20</text>
<text x="1605.93" y="701.22">-0.05</text>
<text x="1659.33" y="701.22">0.49</text>
<text x="1712.72" y="701.22">0.29</text>
<text x="1766.11" y="701.22">0.62</text>
<text x="1819.5" y="701.22">1.00</text>
</g>
<g fill="#fff" stroke="#6a0dad" stroke-width="2.15">
<circle cx="1231.79" cy="56.28" r="24.6"/>
<circle cx="1285.18" cy="56.28" r="24.6"/>
<circle cx="1338.57" cy="56.28" r="24.6"/>
<circle cx="1391.97" cy="56.28" r="24.6"/>
<circle cx="1445.36" cy="56.28" r="24.6"/>
<circle cx="1498.75" cy="56.28" r="24.6"/>
<circle cx="1552.14" cy="56.28" r="24.6"/>
<circle cx="1605.53" cy="56.28" r="24.6"/>
<circle cx="1658.93" cy="56.28" r="24.6"/>
<circle cx="1712.32" cy="56.28" r="24.6"/>
<circle cx="1765.71" cy="56.28" r="24.6"/>
<circle cx="1819.1" cy="56.28" r="24.6"/>
<circle cx="1285.18" cy="109.75" r="24.6"/>
<circle cx="1338.57" cy="109.75" r="24.6"/>
<circle cx="1391.97" cy="109.75" r="24.6"/>
<circle cx="1445.36" cy="109.75" r="24.6"/>
<circle cx="1498.75" cy="109.75" r="24.6"/>
<circle cx="1552.14" cy="109.75" r="24.6"/>
<circle cx="1605.53" cy="109.75" r="24.6"/>
<circle cx="1658.93" cy="109.75" r="24.6"/>
<circle cx="1712.32" cy="109.75" r="24.6"/>
<circle cx="1765.71" cy="109.75" r="24.6"/>
<circle cx="1819.1" cy="109.75" r="24.6"/>
<circle cx="1338.57" cy="163.21" r="24.6"/>
<circle cx="1391.97" cy="163.21" r="24.6"/>
<circle cx="1445.36" cy="163.21" r="24.6"/>
<circle cx="1498.75" cy="163.21" r="24.6"/>
<circle cx="1552.14" cy="163.21" r="24.6"/>
<circle cx="1605.53" cy="163.21" r="24.6"/>
<circle cx="1658.93" cy="163.21" r="24.6"/>
<circle cx="1712.32" cy="163.21" r="24.6"/>
<circle cx="1765.71" cy="163.21" r="24.6"/>
<circle cx="1819.1" cy="163.21" r="24.6"/>
<circle cx="1391.97" cy="216.68" r="24.6"/>
<circle cx="1445.36" cy="216.68" r="24.6"/>
<circle cx="1498.75" cy="216.68" r="24.6"/>
<circle cx="1552.14" cy="216.68" r="24.6"/>
<circle cx="1605.53" cy="216.68" r="24.6"/>
<circle cx="1658.93" cy="216.68" r="24.6"/>
<circle cx="1712.32" cy="216.68" r="24.6"/>
<circle cx="1765.71" cy="216.68" r="24.6"/>
<circle cx="1819.1" cy="216.68" r="24.6"/>
<circle cx="1445.36" cy="270.14" r="24.6"/>
<circle cx="1498.75" cy="270.14" r="24.6"/>
<circle cx="1552.14" cy="270.14" r="24.6"/>
<circle cx="1605.53" cy="270.14" r="24.6"/>
<circle cx="1658.93" cy="270.14" r="24.6"/>
<circle cx="1712.32" cy="270.14" r="24.6"/>
<circle cx="1765.71" cy="270.14" r="24.6"/>
<circle cx="1819.1" cy="270.14" r="24.6"/>
<circle cx="1498.75" cy="323.61" r="24.6"/>
<circle cx="1552.14" cy="323.61" r="24.6"/>
<circle cx="1605.53" cy="323.61" r="24.6"/>
<circle cx="1658.93" cy="323.61" r="24.6"/>
<circle cx="1712.32" cy="323.61" r="24.6"/>
<circle cx="1765.71" cy="323.61" r="24.6"/>
<circle cx="1819.1" cy="323.61" r="24.6"/>
<circle cx="1552.14" cy="377.07" r="24.6"/>
<circle cx="1605.53" cy="377.07" r="24.6"/>
<circle cx="1658.93" cy="377.07" r="24.6"/>
<circle cx="1712.32" cy="377.07" r="24.6"/>
<circle cx="1765.71" cy="377.07" r="24.6"/>
<circle cx="1819.1" cy="377.07" r="24.6"/>
<circle cx="1605.53" cy="430.54" r="24.6"/>
<circle cx="1658.93" cy="430.54" r="24.6"/>
<circle cx="1712.32" cy="430.54" r="24.6"/>
<circle cx="1765.71" cy="430.54" r="24.6"/>
<circle cx="1819.1" cy="430.54" r="24.6"/>
<circle cx="1658.93" cy="484.01" r="24.6"/>
<circle cx="1712.32" cy="484.01" r="24.6"/>
<circle cx="1765.71" cy="484.01" r="24.6"/>
<circle cx="1819.1" cy="484.01" r="24.6"/>
<circle cx="1712.32" cy="537.47" r="24.6"/>
<circle cx="1765.71" cy="537.47" r="24.6"/>
<circle cx="1819.1" cy="537.47" r="24.6"/>
<circle cx="1765.71" cy="590.94" r="24.6"/>
<circle cx="1819.1" cy="590.94" r="24.6"/>
<circle cx="1819.1" cy="644.4" r="24.6"/>
</g>
<g stroke="#000" stroke-opacity="0.9" fill-opacity="0.9" stroke-width="0.65" stroke-linejoin="miter">
<path d="M1231.79 56.28L1231.79 80.88A24.6 24.6 0 0 0 1255.41 63.15Z" fill="#aea8d1"/>
<path d="M1285.18 56.28L1285.18 80.88A24.6 24.6 0 0 0 1285.95 80.87Z" fill="#f7f6f3"/>
<path d="M1338.57 56.28L1338.57 80.88A24.6 24.6 0 0 0 1357.53 71.96Z" fill="#c9c8e1"/>
<path d="M1391.97 56.28L1391.97 80.88A24.6 24.6 0 0 0 1414.84 65.34Z" fill="#b5b0d5"/>
<path d="M1445.36 56.28L1445.36 80.88A24.6 24.6 0 0 0 1460.44 75.72Z" fill="#d7d8ea"/>
<path d="M1498.75 56.28L1498.75 80.88A24.6 24.6 0 0 0 1523.34 55.51Z" fill="#938bbe"/>
<path d="M1552.14 56.28L1552.14 80.88A24.6 24.6 0 0 0 1561.2 79.16Z" fill="#f5e8cf"/>
<path d="M1605.53 56.28L1605.53 80.88A24.6 24.6 0 0 0 1612.4 79.91Z" fill="#f5ecd9"/>
<path d="M1658.93 56.28L1658.93 80.88A24.6 24.6 0 0 0 1667.26 79.43Z" fill="#f5e9d2"/>
<path d="M1712.32 56.28L1712.32 80.88A24.6 24.6 0 0 0 1718.44 80.11Z" fill="#f6eddc"/>
<path d="M1765.71 56.28L1765.71 80.88A24.6 24.6 0 0 0 1785.15 71.36Z" fill="#f0cb8e"/>
<path d="M1819.1 56.28L1819.1 80.88A24.6 24.6 0 0 0 1843.66 57.83Z" fill="#e39f44"/>
<path d="M1285.18 109.75L1285.18 134.35A24.6 24.6 0 0 0 1292.04 133.37Z" fill="#e9eaf2"/>
<path d="M1338.57 109.75L1338.57 134.35A24.6 24.6 0 0 0 1357.53 125.43Z" fill="#c9c8e1"/>
<path d="M1391.97 109.75L1391.97 134.35A24.6 24.6 0 0 0 1396.57 85.58Z" fill="#351062"/>
<path d="M1445.36 109.75L1445.36 134.35A24.6 24.6 0 0 0 1466.91 121.6Z" fill="#bcb9da"/>
<path d="M1498.75 109.75L1498.75 134.35A24.6 24.6 0 0 0 1517.7 125.43Z" fill="#c9c8e1"/>
<path d="M1552.14 109.75L1552.14 134.35A24.6 24.6 0 0 0 1565.97 130.09Z" fill="#d9dbeb"/>
<path d="M1605.53 109.75L1605.53 134.35A24.6 24.6 0 0 0 1627.09 121.6Z" fill="#efc17b"/>
<path d="M1658.93 109.75L1658.93 134.35A24.6 24.6 0 0 0 1673.39 129.65Z" fill="#d8daeb"/>
<path d="M1712.32 109.75L1712.32 134.35A24.6 24.6 0 0 0 1719.18 133.37Z" fill="#f5ecd9"/>
<path d="M1765.71 109.75L1765.71 134.35A24.6 24.6 0 0 0 1777.56 131.31Z" fill="#f4e3c2"/>
<path d="M1819.1 109.75L1819.1 134.35A24.6 24.6 0 0 0 1839.45 123.58Z" fill="#efc887"/>
<path d="M1338.57 163.21L1338.57 187.81A24.6 24.6 0 0 0 1343.94 187.22Z" fill="#ededf3"/>
<path d="M1391.97 163.21L1391.97 187.81A24.6 24.6 0 0 0 1401.02 186.09Z" fill="#e4e5f0"/>
<path d="M1445.36 163.21L1445.36 187.81A24.6 24.6 0 0 0 1446.13 187.8Z" fill="#f7f6f3"/>
<path d="M1498.75 163.21L1498.75 187.81A24.6 24.6 0 0 0 1504.12 187.22Z" fill="#ededf3"/>
<path d="M1552.14 163.21L1552.14 187.81A24.6 24.6 0 0 0 1555.23 187.62Z" fill="#f0f1f4"/>
<path d="M1605.53 163.21L1605.53 187.81A24.6 24.6 0 0 0 1610.14 187.38Z" fill="#eeeef3"/>
<path d="M1658.93 163.21L1658.93 187.81A24.6 24.6 0 0 0 1665.79 186.84Z" fill="#f5ecd9"/>
<path d="M1712.32 163.21L1712.32 187.81A24.6 24.6 0 0 0 1713.09 187.8Z" fill="#f7f6f3"/>
<path d="M1765.71 163.21L1765.71 187.81A24.6 24.6 0 0 0 1767.26 187.76Z" fill="#f7f5f1"/>
<path d="M1819.1 163.21L1819.1 187.81A24.6 24.6 0 0 0 1819.88 187.8Z" fill="#f5f5f6"/>
<path d="M1391.97 216.68L1391.97 241.28A24.6 24.6 0 0 0 1413.88 227.85Z" fill="#bbb7d9"/>
<path d="M1445.36 216.68L1445.36 241.28A24.6 24.6 0 0 0 1465.26 202.22Z" fill="#664b9c"/>
<path d="M1498.75 216.68L1498.75 241.28A24.6 24.6 0 0 0 1507.81 239.55Z" fill="#e4e5f0"/>
<path d="M1552.14 216.68L1552.14 241.28A24.6 24.6 0 0 0 1570.6 232.95Z" fill="#cac9e2"/>
<path d="M1605.53 216.68L1605.53 241.28A24.6 24.6 0 0 0 1620.61 236.12Z" fill="#f2ddb1"/>
<path d="M1658.93 216.68L1658.93 241.28A24.6 24.6 0 0 0 1674.61 235.63Z" fill="#d4d4e8"/>
<path d="M1712.32 216.68L1712.32 241.28A24.6 24.6 0 0 0 1736.33 222.05Z" fill="#a8a1cd"/>
<path d="M1765.71 216.68L1765.71 241.28A24.6 24.6 0 0 0 1772.57 240.3Z" fill="#e9eaf2"/>
<path d="M1819.1 216.68L1819.1 241.28A24.6 24.6 0 0 0 1823.71 240.84Z" fill="#eeeef3"/>
<path d="M1445.36 270.14L1445.36 294.74A24.6 24.6 0 0 0 1468.5 278.48Z" fill="#b3aed5"/>
<path d="M1498.75 270.14L1498.75 294.74A24.6 24.6 0 0 0 1515.59 288.08Z" fill="#d1d1e6"/>
<path d="M1552.14 270.14L1552.14 294.74A24.6 24.6 0 0 0 1567.22 289.58Z" fill="#d7d8ea"/>
<path d="M1605.53 270.14L1605.53 294.74A24.6 24.6 0 0 0 1626.71 282.67Z" fill="#efc37e"/>
<path d="M1658.93 270.14L1658.93 294.74A24.6 24.6 0 0 0 1673.39 290.05Z" fill="#d8daeb"/>
<path d="M1712.32 270.14L1712.32 294.74A24.6 24.6 0 0 0 1716.93 294.31Z" fill="#f6f0e4"/>
<path d="M1765.71 270.14L1765.71 294.74A24.6 24.6 0 0 0 1777.56 291.7Z" fill="#f4e3c2"/>
<path d="M1819.1 270.14L1819.1 294.74A24.6 24.6 0 0 0 1838.06 285.82Z" fill="#f0ce94"/>
<path d="M1498.75 323.61L1498.75 348.21A24.6 24.6 0 0 0 1507.08 346.76Z" fill="#e5e7f0"/>
<path d="M1552.14 323.61L1552.14 348.21A24.6 24.6 0 0 0 1565.97 343.96Z" fill="#d9dbeb"/>
<path d="M1605.53 323.61L1605.53 348.21A24.6 24.6 0 0 0 1618.72 344.38Z" fill="#f4e1ba"/>
<path d="M1658.93 323.61L1658.93 348.21A24.6 24.6 0 0 0 1674 343.05Z" fill="#d7d8ea"/>
<path d="M1712.32 323.61L1712.32 348.21A24.6 24.6 0 0 0 1731.76 338.69Z" fill="#c6c4e0"/>
<path d="M1765.71 323.61L1765.71 348.21A24.6 24.6 0 0 0 1768.79 348.02Z" fill="#f0f1f4"/>
<path d="M1819.1 323.61L1819.1 348.21A24.6 24.6 0 0 0 1822.19 348.02Z" fill="#f7f2e9"/>
<path d="M1552.14 377.07L1552.14 401.68A24.6 24.6 0 0 0 1564.66 398.25Z" fill="#f4e2bf"/>
<path d="M1605.53 377.07L1605.53 401.68A24.6 24.6 0 0 0 1611.65 400.9Z" fill="#f6eddc"/>
<path d="M1658.93 377.07L1658.93 401.68A24.6 24.6 0 0 0 1665.79 400.7Z" fill="#e9eaf2"/>
<path d="M1712.32 377.07L1712.32 401.68A24.6 24.6 0 0 0 1717.69 401.08Z" fill="#f6efe1"/>
<path d="M1765.71 377.07L1765.71 401.68A24.6 24.6 0 0 0 1777.56 398.63Z" fill="#f4e3c2"/>
<path d="M1819.1 377.07L1819.1 401.68A24.6 24.6 0 0 0 1834.78 396.03Z" fill="#f2daab"/>
<path d="M1605.53 430.54L1605.53 455.14A24.6 24.6 0 0 0 1610.9 454.55Z" fill="#f6efe1"/>
<path d="M1658.93 430.54L1658.93 455.14A24.6 24.6 0 0 0 1675.2 448.99Z" fill="#d2d3e7"/>
<path d="M1712.32 430.54L1712.32 455.14A24.6 24.6 0 0 0 1718.44 454.37Z" fill="#eaebf2"/>
<path d="M1765.71 430.54L1765.71 455.14A24.6 24.6 0 0 0 1771.83 454.37Z" fill="#eaebf2"/>
<path d="M1819.1 430.54L1819.1 455.14A24.6 24.6 0 0 0 1833.56 450.44Z" fill="#d8daeb"/>
<path d="M1658.93 484.01L1658.93 508.61A24.6 24.6 0 0 0 1683.22 487.85Z" fill="#e8a750"/>
<path d="M1712.32 484.01L1712.32 508.61A24.6 24.6 0 0 0 1719.92 507.4Z" fill="#f5ebd7"/>
<path d="M1765.71 484.01L1765.71 508.61A24.6 24.6 0 0 0 1775.48 506.58Z" fill="#f4e7cc"/>
<path d="M1819.1 484.01L1819.1 508.61A24.6 24.6 0 0 0 1822.95 508.3Z" fill="#f6f1e6"/>
<path d="M1712.32 537.47L1712.32 562.07A24.6 24.6 0 0 0 1720.65 560.62Z" fill="#e5e7f0"/>
<path d="M1765.71 537.47L1765.71 562.07A24.6 24.6 0 0 0 1790.26 539.02Z" fill="#9c94c4"/>
<path d="M1819.1 537.47L1819.1 562.07A24.6 24.6 0 0 0 1843.69 538.24Z" fill="#9a92c3"/>
<path d="M1765.71 590.94L1765.71 615.54A24.6 24.6 0 0 0 1784.67 606.62Z" fill="#c9c8e1"/>
<path d="M1819.1 590.94L1819.1 615.54A24.6 24.6 0 0 0 1838.54 606.01Z" fill="#c6c4e0"/>
<path d="M1819.1 644.4L1819.1 669A24.6 24.6 0 0 0 1841.98 635.35Z" fill="#7869aa"/>
</g>
<g font-size="13.8" fill="#333" stroke="#333" stroke-width="0.3" text-anchor="middle">
<text x="1231.79" y="59.5">***</text>
<text x="1338.57" y="59.5">***</text>
<text x="1391.97" y="59.5">***</text>
<text x="1445.36" y="59.5">**</text>
<text x="1498.75" y="59.5">***</text>
<text x="1765.71" y="59.5">***</text>
<text x="1819.1" y="59.5">***</text>
<text x="1338.57" y="112.96">***</text>
<text x="1391.97" y="112.96">***</text>
<text x="1445.36" y="112.96">***</text>
<text x="1498.75" y="112.96">***</text>
<text x="1552.14" y="112.96">**</text>
<text x="1605.53" y="112.96">***</text>
<text x="1658.93" y="112.96">**</text>
<text x="1765.71" y="112.96">*</text>
<text x="1819.1" y="112.96">***</text>
<text x="1391.97" y="219.89">***</text>
<text x="1445.36" y="219.89">***</text>
<text x="1552.14" y="219.89">***</text>
<text x="1605.53" y="219.89">**</text>
<text x="1658.93" y="219.89">**</text>
<text x="1712.32" y="219.89">***</text>
<text x="1445.36" y="273.36">***</text>
<text x="1498.75" y="273.36">***</text>
<text x="1552.14" y="273.36">**</text>
<text x="1605.53" y="273.36">***</text>
<text x="1658.93" y="273.36">**</text>
<text x="1765.71" y="273.36">*</text>
<text x="1819.1" y="273.36">***</text>
<text x="1552.14" y="326.83">**</text>
<text x="1605.53" y="326.83">*</text>
<text x="1658.93" y="326.83">**</text>
<text x="1712.32" y="326.83">***</text>
<text x="1552.14" y="380.29">*</text>
<text x="1765.71" y="380.29">*</text>
<text x="1819.1" y="380.29">**</text>
<text x="1658.93" y="433.76">**</text>
<text x="1819.1" y="433.76">**</text>
<text x="1658.93" y="487.22">***</text>
<text x="1765.71" y="540.69">***</text>
<text x="1819.1" y="540.69">***</text>
<text x="1765.71" y="594.15">***</text>
<text x="1819.1" y="594.15">***</text>
<text x="1819.1" y="647.62">***</text>
</g>
<rect x="1152.1" y="29.7" width="694.1" height="695.05" fill="none" stroke="#000" stroke-width="1.63"/>
<text x="1498.75" y="17.85" font-size="24.56" text-anchor="middle" fill="#000">(b) Correlation strength &amp; significance</text>
<path d="M1178.8 724.75v7.14M1152.1 56.43h-7.14M1232.19 724.75v7.14M1152.1 109.9h-7.14M1285.58 724.75v7.14M1152.1 163.36h-7.14M1338.97 724.75v7.14M1152.1 216.83h-7.14M1392.37 724.75v7.14M1152.1 270.29h-7.14M1445.76 724.75v7.14M1152.1 323.76h-7.14M1499.15 724.75v7.14M1152.1 377.22h-7.14M1552.54 724.75v7.14M1152.1 430.69h-7.14M1605.93 724.75v7.14M1152.1 484.16h-7.14M1659.33 724.75v7.14M1152.1 537.62h-7.14M1712.72 724.75v7.14M1152.1 591.09h-7.14M1766.11 724.75v7.14M1152.1 644.55h-7.14M1819.5 724.75v7.14M1152.1 698.02h-7.14" stroke="#000" stroke-width="1.63" fill="none"/>
<g font-size="16.32" fill="#000">
<text x="1137.82" y="61.7" text-anchor="end">D1 DEM</text>
<text x="1137.82" y="115.17" text-anchor="end">D2 Slope</text>
<text x="1137.82" y="168.63" text-anchor="end">D3 Aspect</text>
<text x="1137.82" y="222.1" text-anchor="end">D4 TPI</text>
<text x="1137.82" y="275.56" text-anchor="end">D5 TRI</text>
<text x="1137.82" y="329.03" text-anchor="end">D6 Rugged</text>
<text x="1137.82" y="382.49" text-anchor="end">D7 Dist<tspan dy="1.4" fill="#3a3a3a" stroke="none">_</tspan><tspan dy="-1.4">river</tspan></text>
<text x="1137.82" y="435.96" text-anchor="end">D8 Dist<tspan dy="1.4" fill="#3a3a3a" stroke="none">_</tspan><tspan dy="-1.4">post</tspan></text>
<text x="1137.82" y="489.42" text-anchor="end">D9 Dist<tspan dy="1.4" fill="#3a3a3a" stroke="none">_</tspan><tspan dy="-1.4">wall</tspan></text>
<text x="1137.82" y="542.89" text-anchor="end">D10 KD<tspan dy="1.4" fill="#3a3a3a" stroke="none">_</tspan><tspan dy="-1.4">mil.</tspan></text>
<text x="1137.82" y="596.35" text-anchor="end">D11 Cum<tspan dy="1.4" fill="#3a3a3a" stroke="none">_</tspan><tspan dy="-1.4">view</tspan></text>
<text x="1137.82" y="649.82" text-anchor="end">D12 Betweenness</text>
<text x="1137.82" y="703.28" text-anchor="end">D13 Intvis<tspan dy="1.4" fill="#3a3a3a" stroke="none">_</tspan><tspan dy="-1.4">den</tspan></text>
<text transform="translate(1182.1 739.03) rotate(-90)" text-anchor="end" stroke="#000" stroke-width="0.25">D1 DEM</text>
<text transform="translate(1235.49 739.03) rotate(-90)" text-anchor="end" stroke="#000" stroke-width="0.25">D2 Slope</text>
<text transform="translate(1288.88 739.03) rotate(-90)" text-anchor="end" stroke="#000" stroke-width="0.25">D3 Aspect</text>
<text transform="translate(1342.28 739.03) rotate(-90)" text-anchor="end" stroke="#000" stroke-width="0.25">D4 TPI</text>
<text transform="translate(1395.67 739.03) rotate(-90)" text-anchor="end" stroke="#000" stroke-width="0.25">D5 TRI</text>
<text transform="translate(1449.06 739.03) rotate(-90)" text-anchor="end" stroke="#000" stroke-width="0.25">D6 Rugged</text>
<text transform="translate(1502.45 739.03) rotate(-90)" text-anchor="end" stroke="#000" stroke-width="0.25">D7 Dist<tspan dy="1.4" fill="#3a3a3a" stroke="none">_</tspan><tspan dy="-1.4">river</tspan></text>
<text transform="translate(1555.84 739.03) rotate(-90)" text-anchor="end" stroke="#000" stroke-width="0.25">D8 Dist<tspan dy="1.4" fill="#3a3a3a" stroke="none">_</tspan><tspan dy="-1.4">post</tspan></text>
<text transform="translate(1609.24 739.03) rotate(-90)" text-anchor="end" stroke="#000" stroke-width="0.25">D9 Dist<tspan dy="1.4" fill="#3a3a3a" stroke="none">_</tspan><tspan dy="-1.4">wall</tspan></text>
<text transform="translate(1662.63 739.03) rotate(-90)" text-anchor="end" stroke="#000" stroke-width="0.25">D10 KD<tspan dy="1.4" fill="#3a3a3a" stroke="none">_</tspan><tspan dy="-1.4">mil.</tspan></text>
<text transform="translate(1716.02 739.03) rotate(-90)" text-anchor="end" stroke="#000" stroke-width="0.25">D11 Cum<tspan dy="1.4" fill="#3a3a3a" stroke="none">_</tspan><tspan dy="-1.4">view</tspan></text>
<text transform="translate(1769.41 739.03) rotate(-90)" text-anchor="end" stroke="#000" stroke-width="0.25">D12 Betweenness</text>
<text transform="translate(1822.81 739.03) rotate(-90)" text-anchor="end" stroke="#000" stroke-width="0.25">D13 Intvis<tspan dy="1.4" fill="#3a3a3a" stroke="none">_</tspan><tspan dy="-1.4">den</tspan></text>
</g>
<rect x="1877.7" y="29.7" width="34.4" height="695.05" fill="url(#gO)" stroke="#000" stroke-width="1.63"/>
<g font-size="20.4" fill="#000">
<text x="1926.38" y="36.53">1.00</text>
<text x="1926.38" y="123.42">0.75</text>
<text x="1926.38" y="210.3">0.50</text>
<text x="1926.38" y="297.18">0.25</text>
<text x="1926.38" y="384.06">0.00</text>
<text x="1926.38" y="470.94">−0.25</text>
<text x="1926.38" y="557.82">−0.50</text>
<text x="1926.38" y="644.7">−0.75</text>
<text x="1926.38" y="731.58">−1.00</text>
<text transform="translate(1996 377.23) rotate(-90)" text-anchor="middle" stroke="#000" stroke-width="0.25">Spearman's rho</text>
</g>
<path d="M1912.1 29.7h7.14M1912.1 116.58h7.14M1912.1 203.46h7.14M1912.1 290.34h7.14M1912.1 377.22h7.14M1912.1 464.11h7.14M1912.1 550.99h7.14M1912.1 637.87h7.14M1912.1 724.75h7.14" stroke="#000" stroke-width="1.63" fill="none"/>
</svg></body></html>
